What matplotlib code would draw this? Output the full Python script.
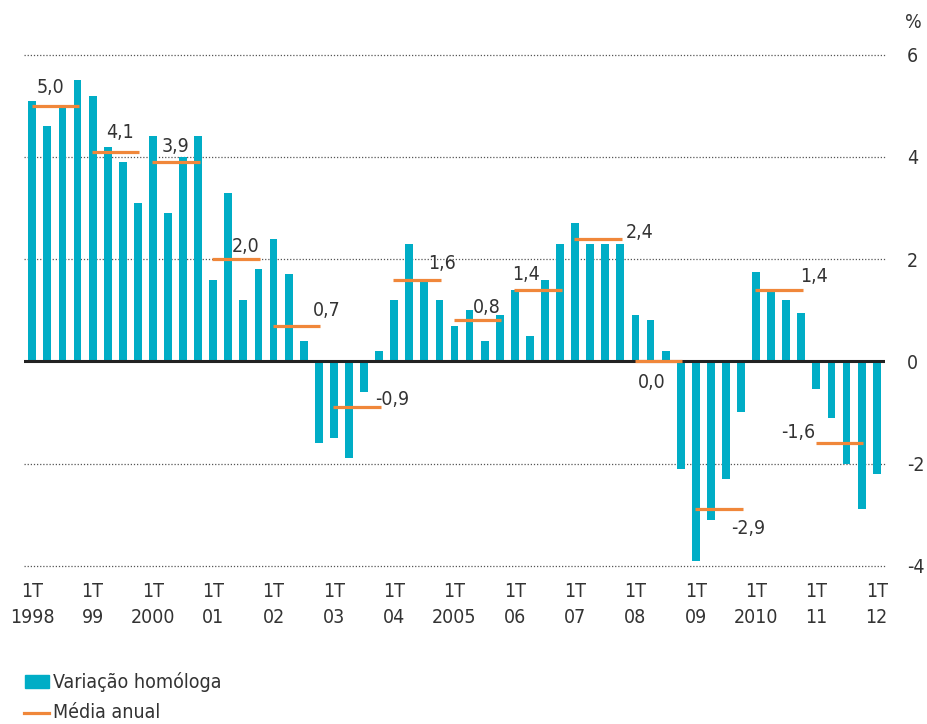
"""Quarterly year-on-year change with annual averages, 1998-2012."""

import matplotlib.pyplot as plt
from matplotlib.lines import Line2D
from matplotlib.patches import Rectangle
from matplotlib.transforms import blended_transform_factory

# narrow face, closer to the original's condensed type
plt.rcParams["font.family"] = ["DejaVu Sans"]
plt.rcParams["font.stretch"] = "condensed"

# quarterly values, 1998Q1 .. 2012Q1
yoy = [
    5.1, 4.6, 5.0, 5.5,
    5.2, 4.2, 3.9, 3.1,
    4.4, 2.9, 4.0, 4.4,
    1.6, 3.3, 1.2, 1.8,
    2.4, 1.7, 0.4, -1.6,
    -1.5, -1.9, -0.6, 0.2,
    1.2, 2.3, 1.6, 1.2,
    0.7, 1.0, 0.4, 0.9,
    1.4, 0.5, 1.6, 2.3,
    2.7, 2.3, 2.3, 2.3,
    0.9, 0.8, 0.2, -2.1,
    -3.9, -3.1, -2.3, -1.0,
    1.75, 1.4, 1.2, 0.95,
    -0.55, -1.1, -2.0, -2.9,
    -2.2,
]
annual_avg = [5.0, 4.1, 3.9, 2.0, 0.7, -0.9, 1.6, 0.8, 1.4, 2.4, 0.0, -2.9, 1.4, -1.6]
year_labels = ["1998", "99", "2000", "01", "02", "03", "04", "2005",
               "06", "07", "08", "09", "2010", "11", "12"]

TEAL = "#00adc6"
ORANGE = "#f0873a"
TEXT = "#333333"

# label nudges (bars, value units) relative to the centre of each annual segment
label_dx = [-0.26, 0.32, 0.0, 0.67, 2.0, 2.35, 1.67, 0.65, -0.76, 2.8, -0.4, 1.96, 2.33, -2.7]
label_dy = [0.36, 0.37, 0.31, 0.25, 0.29, 0.16, 0.31, 0.25, 0.29, 0.12, -0.41, -0.37, 0.25, 0.2]


def fmt(v):
    return f"{v:.1f}".replace(".", ",")


fig = plt.figure(figsize=(9.28, 7.24), dpi=100)
ax = fig.add_axes([24 / 928, 158.3 / 724, (885 - 24) / 928, 511 / 724])

x = list(range(len(yoy)))
ax.bar(x, yoy, width=0.52, color=TEAL, zorder=2)

for k, avg in enumerate(annual_avg):
    ax.plot([4 * k - 0.05, 4 * k + 3.1], [avg, avg], color=ORANGE, lw=2.3,
            solid_capstyle="butt", zorder=4)
    ax.text(4 * k + 1.5 + label_dx[k], avg + label_dy[k], fmt(avg),
            ha="center", va="center", fontsize=14, color=TEXT, zorder=5)

ax.axhline(0, color="#222222", lw=2.2, zorder=3)
for g in [-4, -2, 2, 4, 6]:
    ax.axhline(g, color="#555555", lw=0.9, ls=(0, (1, 1.5)), zorder=1, clip_on=False)

ax.set_xlim(-0.55, len(yoy) - 0.45)
ax.set_ylim(-4, 6)
for s in ax.spines.values():
    s.set_visible(False)

ax.yaxis.tick_right()
ax.set_yticks([-4, -2, 0, 2, 4, 6])
ax.set_yticklabels(["-4", "-2", "0", "2", "4", "6"])
ax.tick_params(axis="y", length=0, pad=16, labelsize=14, labelcolor=TEXT)

ticks = list(range(0, len(yoy), 4))
ax.set_xticks(ticks)
ax.set_xticklabels(["1T"] * len(ticks))
ax.tick_params(axis="x", length=0, pad=12, labelsize=14, labelcolor=TEXT)
trans = blended_transform_factory(ax.transData, ax.transAxes)
for t, lab in zip(ticks, year_labels):
    ax.text(t, -0.102, lab, transform=trans, ha="center", va="center",
            fontsize=14, color=TEXT)

fig.text(913 / 928, 1 - 22 / 724, "%", ha="center", va="center", fontsize=14, color=TEXT)

# legend
fig.add_artist(Rectangle((25 / 928, 1 - 688 / 724), 24 / 928, 13 / 724,
                         transform=fig.transFigure, color=TEAL))
fig.text(53 / 928, 1 - 682 / 724, "Variação homóloga", ha="left", va="center",
         fontsize=14, color=TEXT)
fig.add_artist(Line2D([24 / 928, 49 / 928], [1 - 713 / 724, 1 - 713 / 724],
                      transform=fig.transFigure, color=ORANGE, lw=2.3))
fig.text(53 / 928, 1 - 713 / 724, "Média anual", ha="left", va="center",
         fontsize=14, color=TEXT)

fig.savefig("out.png", dpi=100)
